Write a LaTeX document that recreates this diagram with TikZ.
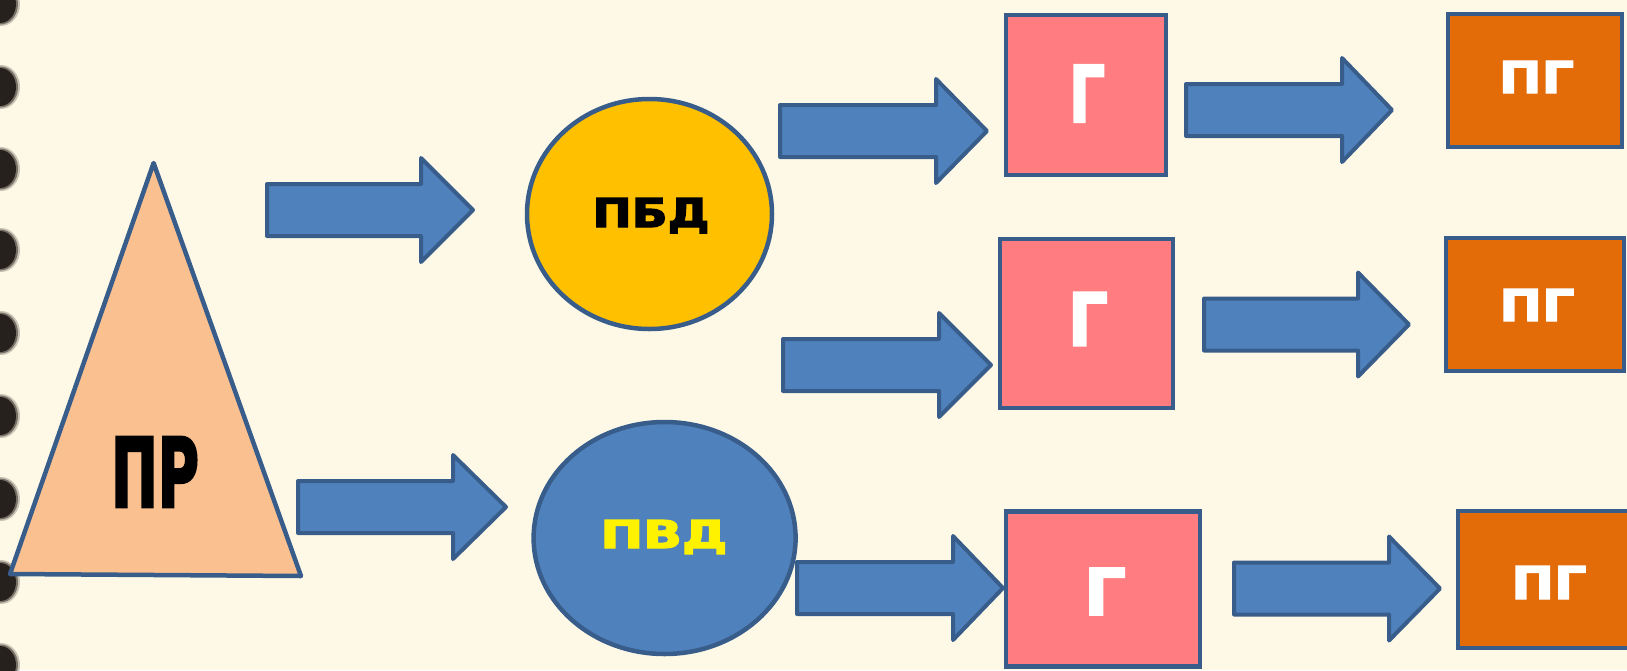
\documentclass[tikz,border=0pt]{standalone}
\usepackage{fontspec}
\setmainfont{DejaVu Sans}
\newfontfamily\heavyfont{DejaVu Sans Bold}[FakeBold=3]
\usetikzlibrary{shapes.geometric}

\definecolor{paper}{RGB}{254,249,230}
\definecolor{edge}{RGB}{56,93,138}
\definecolor{arrowblue}{RGB}{79,129,189}
\definecolor{peach}{RGB}{250,192,144}
\definecolor{amber}{RGB}{255,192,0}
\definecolor{salmon}{RGB}{255,124,128}
\definecolor{rust}{RGB}{227,108,9}
\definecolor{ink}{RGB}{38,33,29}

\tikzset{
  blockarrow/.style={fill=arrowblue, draw=edge, line width=4pt, line join=round},
  shapeedge/.style={draw=edge, line width=4.5pt},
  oval/.style={shapeedge, ellipse, inner sep=0pt},
  gbox/.style={shapeedge, rectangle, fill=salmon, inner sep=0pt},
  pgbox/.style={shapeedge, rectangle, fill=rust, inner sep=0pt},
  lbl/.style={anchor=base, inner sep=0pt, font=\heavyfont},
  ring/.style={fill=ink},
}

% block arrow: left x, head start x, tip x, centre y
\newcommand{\blockarrowat}[4]{%
  \draw[blockarrow] (#1,#4-26) -- (#2,#4-26) -- (#2,#4-52) -- (#3,#4)
    -- (#2,#4+52) -- (#2,#4+26) -- (#1,#4+26) -- cycle;}

\begin{document}
\begin{tikzpicture}[x=1pt,y=-1pt]
  \useasboundingbox (0,0) rectangle (1627,670);
  \clip (0,0) rectangle (1627,670);
  \fill[paper] (0,0) rectangle (1627,670);

  % binding rings along the left edge
  \foreach \ry in {4,87,169,250,333,416,499,582,665}{
    \fill[ring, opacity=.25] (1,\ry) ellipse [x radius=19pt, y radius=22pt];
    \fill[ring, opacity=.5] (0.5,\ry) ellipse [x radius=17.5pt, y radius=20.5pt];
    \fill[ring] (0,\ry) ellipse [x radius=16pt, y radius=19pt];
  }

  % root triangle
  \draw[shapeedge, fill=peach, line join=round] (10,574) -- (153.6,163) -- (301,576) -- cycle;
  \node[lbl] (pr) at (155,507) {\resizebox{88pt}{70pt}{ПР}};

  % second level
  \node[oval, fill=amber, minimum width=245pt, minimum height=230pt] (pbd) at (649.5,214) {};
  \node[lbl] (pbdtext) at (651,227) {\resizebox{117pt}{29pt}{ПБД}};
  \node[oval, fill=arrowblue, minimum width=262pt, minimum height=232pt] (pvd) at (664.6,538) {};
  \node[lbl, text=yellow] (pvdtext) at (664,548) {\resizebox{127pt}{28pt}{ПВД}};

  % third level
  \node[gbox, minimum width=160pt, minimum height=160pt] (g1) at (1086,95) {};
  \node[gbox, minimum width=173pt, minimum height=169pt] (g2) at (1086.5,323.5) {};
  \node[gbox, minimum width=194pt, minimum height=155pt] (g3) at (1103,589) {};
  \node[lbl, text=white] (g1text) at (1087,122) {\resizebox{36pt}{57pt}{Г}};
  \node[lbl, text=white] (g2text) at (1088,345.5) {\resizebox{40pt}{53pt}{Г}};
  \node[lbl, text=white] (g3text) at (1105,615) {\resizebox{42pt}{47pt}{Г}};

  % fourth level
  \node[pgbox, minimum width=174pt, minimum height=133pt] (pg1) at (1535,80.5) {};
  \node[pgbox, minimum width=178pt, minimum height=133pt] (pg2) at (1535,304.5) {};
  \node[pgbox, minimum width=176pt, minimum height=137pt] (pg3) at (1546,579.5) {};
  \node[lbl, text=white] (pg1text) at (1536.5,93) {\resizebox{75pt}{32pt}{ПГ}};
  \node[lbl, text=white] (pg2text) at (1537,321) {\resizebox{75pt}{32pt}{ПГ}};
  \node[lbl, text=white] (pg3text) at (1549,599) {\resizebox{75pt}{33pt}{ПГ}};

  % block arrows between the levels
  \blockarrowat{267}{421}{473}{210}
  \blockarrowat{298}{453}{506}{507}
  \blockarrowat{780}{936}{987}{131}
  \blockarrowat{783}{939}{991}{365}
  \blockarrowat{797}{953}{1003}{588}
  \blockarrowat{1186}{1342}{1392}{110}
  \blockarrowat{1204}{1358}{1409}{324.5}
  \blockarrowat{1234}{1389}{1440}{588.5}
\end{tikzpicture}
\end{document}
